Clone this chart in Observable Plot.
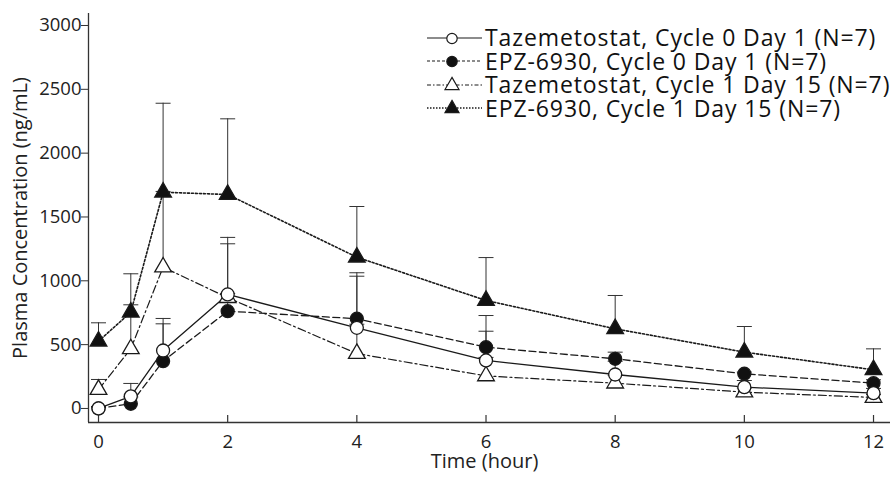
<!DOCTYPE html>
<html><head><meta charset="utf-8">
<script src="https://cdn.jsdelivr.net/npm/d3@7"></script>
<script src="https://cdn.jsdelivr.net/npm/@observablehq/plot@0.6"></script>
<style>
body{margin:0;background:#fff;}
#wrap{position:relative;width:895px;height:481px;font-family:"Open Sans",sans-serif;}
#legend{position:absolute;left:426px;top:26px;}
.row{display:flex;align-items:center;height:23.5px;color:#111;white-space:nowrap;}
.row svg{flex:none;margin-right:3px;}
.row span{display:inline-block;height:23.5px;line-height:23.5px;font-size:23px;letter-spacing:0.9px;overflow:visible;}
</style></head><body><div id="wrap"></div>
<script>
// ---- data ----
const times = [0, 0.5, 1, 2, 4, 6, 8, 10, 12];
const seriesNames = [
  "Tazemetostat, Cycle 0 Day 1 (N=7)",
  "EPZ-6930, Cycle 0 Day 1 (N=7)",
  "Tazemetostat, Cycle 1 Day 15 (N=7)",
  "EPZ-6930, Cycle 1 Day 15 (N=7)"
];
const tazC0D1      = [0, 95, 454, 893, 632, 376, 266, 167, 120];
const tazC0D1Upper = [15, 196, 705, 1340, 1036, 605, 370, 219, 157];
const epzC0D1      = [0, 37, 371, 762, 703, 480, 389, 272, 198];
const epzC0D1Upper = [10, 90, 663, 1290, 1063, 728, 441, 285, 225];
const tazC1D15      = [148, 467, 1107, 868, 430, 255, 198, 128, 86];
const tazC1D15Upper = [227, 812, 1700, 900, 660, 400, 260, 160, 110];
const epzC1D15      = [527, 754, 1694, 1676, 1185, 846, 624, 441, 303];
const epzC1D15Upper = [671, 1055, 2391, 2269, 1582, 1182, 885, 642, 467];
const yTicks = [0, 500, 1000, 1500, 2000, 2500, 3000];
const xTicks = [0, 2, 4, 6, 8, 10, 12];
const xLabel = "Time (hour)";
const yLabel = "Plasma Concentration (ng/mL)";

// ---- styles ----
const means = [tazC0D1, epzC0D1, tazC1D15, epzC1D15];
const uppers = [tazC0D1Upper, epzC0D1Upper, tazC1D15Upper, epzC1D15Upper];
const symbols = ["circle", "circle", "triangle", "triangle"];
const fills = ["white", "#111", "white", "#111"];
const dashes = [null, "7,3.5", "8,3,2,3", "2,2"];
const widths = [1.3, 1.3, 1.2, 1.6];
const radii = [6.5, 6.5, 6.2, 6.2];

const rows = [];
means.forEach((arr, s) => arr.forEach((v, i) =>
  rows.push({series: seriesNames[s], s, time: times[i], value: v, upper: uppers[s][i]})));

const W = 895, H = 481, mL = 88, mR = 5, mT = 13, mB = 59;
const xDomain = [-0.155, 12.263];
const yDomain = [-110, 3094];
const unitsPerPx = (yDomain[1] - yDomain[0]) / (H - mT - mB);

const capSymbol = {draw(ctx, size) { const w = Math.sqrt(size / Math.PI); ctx.moveTo(-w, 0); ctx.lineTo(w, 0); }};
const ink = "#1a1a1a";

const marks = [
  Plot.ruleX([xDomain[0]], {stroke: "#333", strokeWidth: 1.3}),
  Plot.ruleY([yDomain[0]], {stroke: "#333", strokeWidth: 1.3}),
  Plot.ruleX(xTicks, {x: d => d, y1: yDomain[0], y2: yDomain[0] + 7 * unitsPerPx, stroke: "#333", strokeWidth: 1.2}),
  Plot.axisY({ticks: yTicks, tickSize: 7, tickPadding: 0, label: null, tickFormat: d => String(d), stroke: "#333", fontSize: 18.5}),
  Plot.axisX({ticks: xTicks, tickSize: 0, tickPadding: 12, label: null, tickFormat: d => String(d), fontSize: 18.5}),
  Plot.text([yLabel], {frameAnchor: "left", rotate: -90, dx: -68, textAnchor: "middle", fontSize: 20, fill: "#222"}),
  Plot.text([xLabel], {frameAnchor: "bottom", dy: 45, dx: -5, textAnchor: "middle", fontSize: 20, fill: "#222"}),
  Plot.ruleX(rows, {x: "time", y1: "value", y2: "upper", stroke: "#333", strokeWidth: 1})
];
marks.push(Plot.dot(rows, {x: "time", y: "upper", symbol: capSymbol, r: 7.5, stroke: "#333", strokeWidth: 1, fill: "none"}));
for (let s = 0; s < 4; s++) {
  marks.push(Plot.line(rows.filter(r => r.s === s), {x: "time", y: "value", stroke: ink, strokeWidth: widths[s], strokeDasharray: dashes[s]}));
}
for (const s of [3, 2, 1, 0]) {
  marks.push(Plot.dot(rows.filter(r => r.s === s), {x: "time", y: "value", symbol: symbols[s], r: radii[s], fill: fills[s], stroke: ink, strokeWidth: 1.3}));
}

const chart = Plot.plot({
  width: W, height: H,
  marginLeft: mL, marginRight: mR, marginTop: mT, marginBottom: mB,
  style: {fontFamily: "'Open Sans', sans-serif", fontSize: "18.5px", color: "#222", background: "white"},
  x: {domain: xDomain},
  y: {domain: yDomain},
  marks
});
const wrap = document.getElementById("wrap");
wrap.appendChild(chart);

// ---- legend ----
const legend = document.createElement("div");
legend.id = "legend";
seriesNames.forEach((name, s) => {
  const row = document.createElement("div");
  row.className = "row";
  const svg = d3.create("svg").attr("width", 56).attr("height", 22);
  svg.append("line").attr("x1", 1).attr("x2", 56).attr("y1", 11).attr("y2", 11)
    .attr("stroke", ink).attr("stroke-width", s === 3 ? 1.4 : 1.1).attr("stroke-dasharray", dashes[s] ? (s === 3 ? "1.5,1.5" : s === 1 ? "3,2" : "4,2,1.5,2") : null);
  const sym = d3.symbol().type(symbols[s] === "circle" ? d3.symbolCircle : d3.symbolTriangle).size(Math.PI * 5.2 * 5.2);
  svg.append("path").attr("d", sym()).attr("transform", "translate(26,11.5)")
    .attr("fill", fills[s]).attr("stroke", ink).attr("stroke-width", 1.2);
  row.appendChild(svg.node());
  const span = document.createElement("span");
  span.textContent = name;
  row.appendChild(span);
  legend.appendChild(row);
});
wrap.appendChild(legend);
</script></body></html>
